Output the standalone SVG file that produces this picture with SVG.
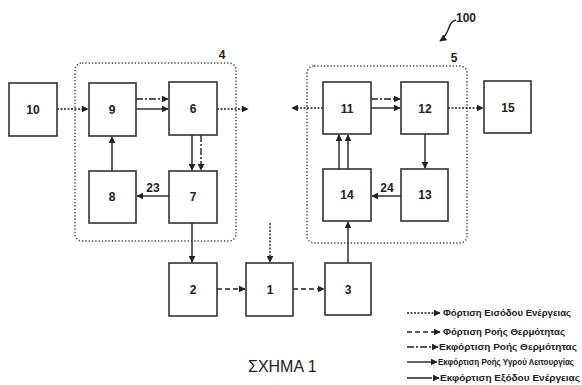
<svg xmlns="http://www.w3.org/2000/svg" width="582" height="385" viewBox="0 0 582 385">
<defs>
<marker id="ah" viewBox="0 0 10 10" refX="9" refY="5" markerWidth="7" markerHeight="7" markerUnits="userSpaceOnUse" orient="auto">
<path d="M0,0 L10,5 L0,10 z" fill="#222"/>
</marker>
</defs>
<style>
.box{fill:#fff;stroke:#333;stroke-width:1.6}
.grp{fill:none;stroke:#444;stroke-width:1.5;stroke-dasharray:1.3 2}
.lbl{font-family:"Liberation Sans",Arial,sans-serif;font-weight:bold;font-size:12px;fill:#222;text-anchor:middle}
.c{fill:none;stroke:#222;stroke-width:1.4;marker-end:url(#ah)}
.dot{stroke-dasharray:2 1.5}
.dash{stroke-dasharray:5 3}
.dd{stroke-dasharray:7 2 2 2}
.leg{font-family:"Liberation Sans",Arial,sans-serif;font-weight:bold;font-size:8.5px;fill:#222}
</style>
<rect width="582" height="385" fill="#fff"/>

<g id="group4"><rect class="grp" x="75" y="63" width="161" height="178" rx="7"/><text class="lbl" x="222" y="59">4</text></g>
<g id="group5"><rect class="grp" x="307" y="66" width="160" height="177" rx="7"/><text class="lbl" x="454" y="62">5</text></g>

<g id="connectors">
<path class="c dot" d="M57,109 H88"/>
<path class="c dd" d="M136,99 H168"/>
<path class="c" d="M136,109 H168"/>
<path class="c dot" d="M217,109 H248"/>
<path class="c" d="M192,135 V170"/>
<path class="c dd" d="M201,135 V170"/>
<path class="c" d="M112,171 V137"/>
<path class="c" d="M169,196 H137"/>
<path class="c" d="M192,223 V262"/>
<path class="c dot" d="M270,223 V262"/>
<path class="c dash" d="M217,289 H245"/>
<path class="c dash" d="M293,289 H324"/>
<path class="c" d="M348,263 V222"/>
<path class="c" d="M339,169 V135"/>
<path class="c" d="M348,169 V135"/>
<path class="c dot" d="M323,108 H292"/>
<path class="c dd" d="M371,99 H400"/>
<path class="c" d="M371,108 H400"/>
<path class="c dot" d="M448,108 H483"/>
<path class="c" d="M425,134 V168"/>
<path class="c" d="M401,196 H372"/>
<path class="c" d="M456,20 C447,22 451,33 440,41"/>
</g>
<text class="lbl" x="153" y="192">23</text>
<text class="lbl" x="387" y="192">24</text>
<text class="lbl" x="466" y="22">100</text>

<g id="n10"><rect class="box" x="9" y="83" width="48" height="53"/><text class="lbl" x="33" y="114">10</text></g>
<g id="n9"><rect class="box" x="89" y="83" width="47" height="53"/><text class="lbl" x="112" y="114">9</text></g>
<g id="n6"><rect class="box" x="169" y="82" width="48" height="53"/><text class="lbl" x="193" y="113">6</text></g>
<g id="n8"><rect class="box" x="89" y="171" width="47" height="52"/><text class="lbl" x="112" y="201">8</text></g>
<g id="n7"><rect class="box" x="169" y="171" width="48" height="52"/><text class="lbl" x="193" y="201">7</text></g>
<g id="n2"><rect class="box" x="169" y="263" width="48" height="53"/><text class="lbl" x="193" y="294">2</text></g>
<g id="n1"><rect class="box" x="246" y="263" width="47" height="53"/><text class="lbl" x="270" y="294">1</text></g>
<g id="n3"><rect class="box" x="325" y="263" width="46" height="52"/><text class="lbl" x="348" y="294">3</text></g>
<g id="n11"><rect class="box" x="323" y="82" width="48" height="52"/><text class="lbl" x="347" y="113">11</text></g>
<g id="n12"><rect class="box" x="401" y="82" width="47" height="52"/><text class="lbl" x="425" y="113">12</text></g>
<g id="n15"><rect class="box" x="484" y="81" width="47" height="52"/><text class="lbl" x="508" y="112">15</text></g>
<g id="n14"><rect class="box" x="323" y="169" width="48" height="52"/><text class="lbl" x="347" y="199">14</text></g>
<g id="n13"><rect class="box" x="401" y="169" width="47" height="52"/><text class="lbl" x="425" y="199">13</text></g>

<text x="248" y="372" font-family="'Liberation Sans',Arial,sans-serif" font-size="16" fill="#222">ΣΧΗΜΑ 1</text>

<g id="legend">
<path class="c dot" d="M407,313 H440"/>
<text class="leg" x="443" y="316" textLength="128" lengthAdjust="spacingAndGlyphs">Φόρτιση Εισόδου Ενέργειας</text>
<path class="c dash" d="M407,332 H440"/>
<text class="leg" x="443" y="335" textLength="122" lengthAdjust="spacingAndGlyphs">Φόρτιση Ροής Θερμότητας</text>
<path class="c dd" d="M407,347 H438"/>
<text class="leg" x="439" y="350" textLength="138" lengthAdjust="spacingAndGlyphs">Εκφόρτιση Ροής Θερμότητας</text>
<path class="c" d="M407,362 H437"/>
<text class="leg" x="438" y="364.5" font-size="6.5" textLength="136" lengthAdjust="spacingAndGlyphs">Εκφόρτιση Ροής Υγρού Λειτουργίας</text>
<path class="c" d="M407,378 H432 M434,378 H439"/>
<text class="leg" x="440" y="381" textLength="140" lengthAdjust="spacingAndGlyphs">Εκφόρτιση Εξόδου Ενέργειας</text>
</g>
</svg>
